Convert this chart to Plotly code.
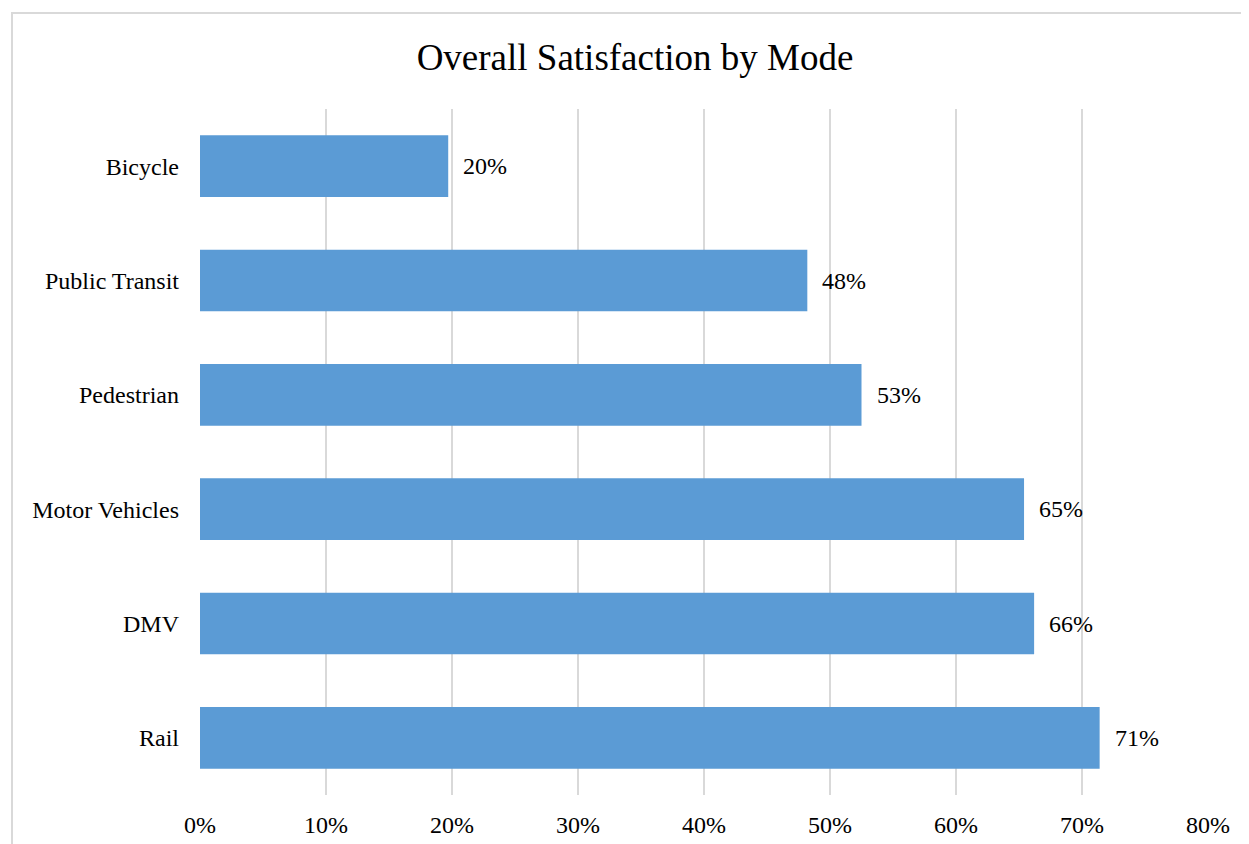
import plotly.graph_objects as go

categories = ["Rail", "DMV", "Motor Vehicles", "Pedestrian", "Public Transit", "Bicycle"]
values = [71.4, 66.2, 65.4, 52.5, 48.2, 19.7]
value_labels = ["71%", "66%", "65%", "53%", "48%", "20%"]
tick_vals = [0, 10, 20, 30, 40, 50, 60, 70, 80]
tick_text = ["0%", "10%", "20%", "30%", "40%", "50%", "60%", "70%", "80%"]

FONT = "Liberation Serif, Times New Roman, serif"

W, H = 1241, 836  # page has an 8px body margin

fig = go.Figure()
fig.add_trace(go.Bar(
    y=categories, x=values, orientation="h",
    marker=dict(color="#5B9BD5", line=dict(width=0)),
    width=0.54, hoverinfo="skip",
))

for c, v, t in zip(categories, values, value_labels):
    fig.add_annotation(x=v, y=c, text=t, showarrow=False, xanchor="left",
                       xshift=13, font=dict(family=FONT, size=24, color="#000000"))

fig.update_layout(
    width=W, height=H,
    margin=dict(l=192, r=41, t=101, b=49, autoexpand=False),
    paper_bgcolor="white", plot_bgcolor="white",
    showlegend=False,
    title=dict(text="Overall Satisfaction by Mode", x=627 / W, xanchor="center",
               y=1 - 49 / H, yanchor="middle",
               font=dict(family=FONT, size=37, color="#000000")),
    font=dict(family=FONT, size=24, color="#000000"),
    xaxis=dict(range=[0, 80], tickvals=tick_vals, ticktext=tick_text,
               showgrid=True, gridcolor="#D9D9D9", gridwidth=2,
               zeroline=False, showline=False, ticks="", ticklabelstandoff=13,
               automargin=False,
               tickfont=dict(family=FONT, size=24, color="#000000")),
    yaxis=dict(categoryorder="array", categoryarray=categories,
               showgrid=False, zeroline=False, showline=False, ticks="",
               ticklabelstandoff=20, automargin=False,
               tickfont=dict(family=FONT, size=24, color="#000000")),
    shapes=[dict(type="rect", xref="paper", yref="paper",
                 x0=(12 - 200) / 1008, x1=1.06,
                 y0=-0.3, y1=(795 - 13) / 686,
                 line=dict(color="#D9D9D9", width=2), layer="below")],
)

fig.write_html("out.html")
